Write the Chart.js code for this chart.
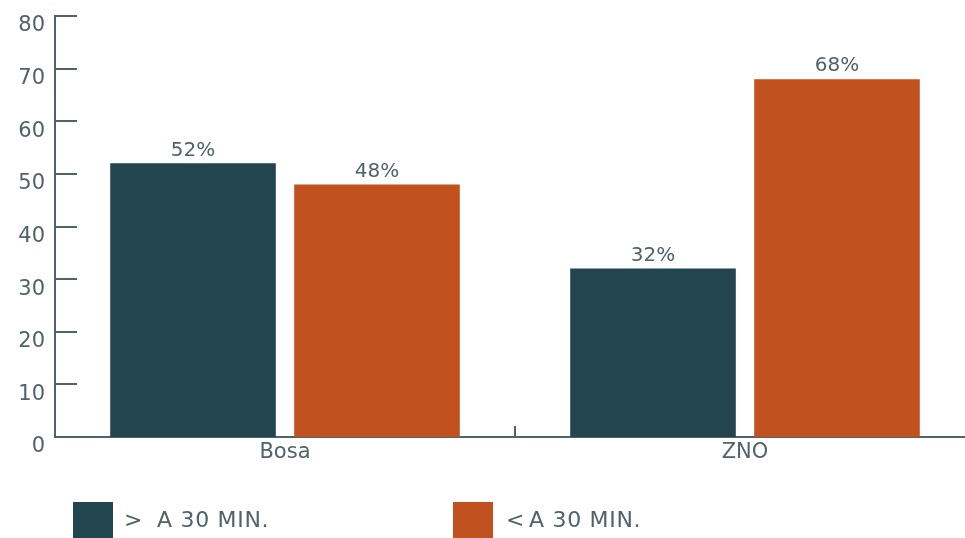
<!DOCTYPE html>
<html>
<head>
<meta charset="utf-8">
<script src="https://cdn.jsdelivr.net/npm/chart.js@4"></script>
<style>
  html, body { margin: 0; padding: 0; background: #fff; overflow: hidden; }
  #wrap { position: relative; width: 965px; height: 538px; overflow: hidden; }
  #box { position: absolute; left: 0; top: 0; width: 976px; height: 538px; }
  .leg { position: absolute; top: 502px; font-family: "DejaVu Sans", sans-serif; font-size: 22px; letter-spacing: 0.7px; color: #506368; }
  .leg span.sw { position: absolute; top: 0; width: 40px; height: 40px; }
  .leg span.tx { position: absolute; top: 5px; white-space: pre; }
</style>
</head>
<body>
<div id="wrap">
  <div id="box"><canvas id="chart" width="976" height="538"></canvas></div>
  <div class="leg" style="left:73px">
    <span class="sw" style="background:#22454f"></span>
    <span class="tx" style="left:51px">&gt;</span>
    <span class="tx" style="left:84px">A 30 MIN.</span>
  </div>
  <div class="leg" style="left:453px">
    <span class="sw" style="background:#c1521f"></span>
    <span class="tx" style="left:53px">&lt;</span>
    <span class="tx" style="left:76px">A 30 MIN.</span>
  </div>
</div>
<script>
const categories = ['Bosa', 'ZNO'];
const overThirty = [52, 32];
const underThirty = [48, 68];
const seriesNames = ['> A 30 MIN.', '< A 30 MIN.'];
const yTicks = [0, 10, 20, 30, 40, 50, 60, 70, 80];

const axisColor = '#4e6469';
const textColor = '#506368';
const font = '"DejaVu Sans", sans-serif';

// draws the inward ticks, category dividers and value labels
const decor = {
  id: 'decor',
  afterDatasetsDraw(chart) {
    const ctx = chart.ctx;
    const x = chart.scales.x;
    const y = chart.scales.y;
    ctx.save();
    ctx.strokeStyle = axisColor;
    ctx.lineWidth = 2;
    yTicks.forEach(v => {
      const py = Math.round(y.getPixelForValue(v));
      ctx.beginPath();
      ctx.moveTo(x.left, py);
      ctx.lineTo(x.left + 22, py);
      ctx.stroke();
    });
    for (let i = 1; i < categories.length; i++) {
      const px = (x.getPixelForValue(i - 1) + x.getPixelForValue(i)) / 2;
      ctx.beginPath();
      ctx.moveTo(px, y.bottom);
      ctx.lineTo(px, y.bottom - 11);
      ctx.stroke();
    }
    ctx.fillStyle = textColor;
    ctx.font = '20px ' + font;
    ctx.textAlign = 'center';
    ctx.textBaseline = 'bottom';
    chart.data.datasets.forEach((ds, di) => {
      chart.getDatasetMeta(di).data.forEach((bar, i) => {
        ctx.fillText(ds.data[i] + '%', bar.x, bar.y - 3);
      });
    });
    ctx.restore();
  }
};

new Chart(document.getElementById('chart'), {
  type: 'bar',
  data: {
    labels: categories,
    datasets: [
      { label: seriesNames[0], data: overThirty, backgroundColor: '#22454f' },
      { label: seriesNames[1], data: underThirty, backgroundColor: '#c1521f' }
    ]
  },
  options: {
    responsive: false,
    animation: false,
    layout: { padding: { top: 16, right: 1, left: 0, bottom: 0 } },
    plugins: { legend: { display: false }, tooltip: { enabled: false } },
    scales: {
      x: {
        grid: { display: false, drawTicks: false },
        border: { color: axisColor, width: 2 },
        ticks: { color: textColor, font: { family: font, size: 21 }, padding: 3 },
        afterFit(scale) { scale.height = 101; }
      },
      y: {
        min: 0,
        max: 80,
        grid: { display: false, drawTicks: false },
        border: { color: axisColor, width: 2 },
        ticks: {
          stepSize: 10,
          color: textColor,
          font: { family: font, size: 21 },
          padding: 10,
          labelOffset: 10
        },
        afterFit(scale) {
          scale.width = 55;
          scale.paddingTop = 0;
          scale.paddingBottom = 0;
        }
      }
    }
  },
  plugins: [decor]
});
</script>
</body>
</html>
